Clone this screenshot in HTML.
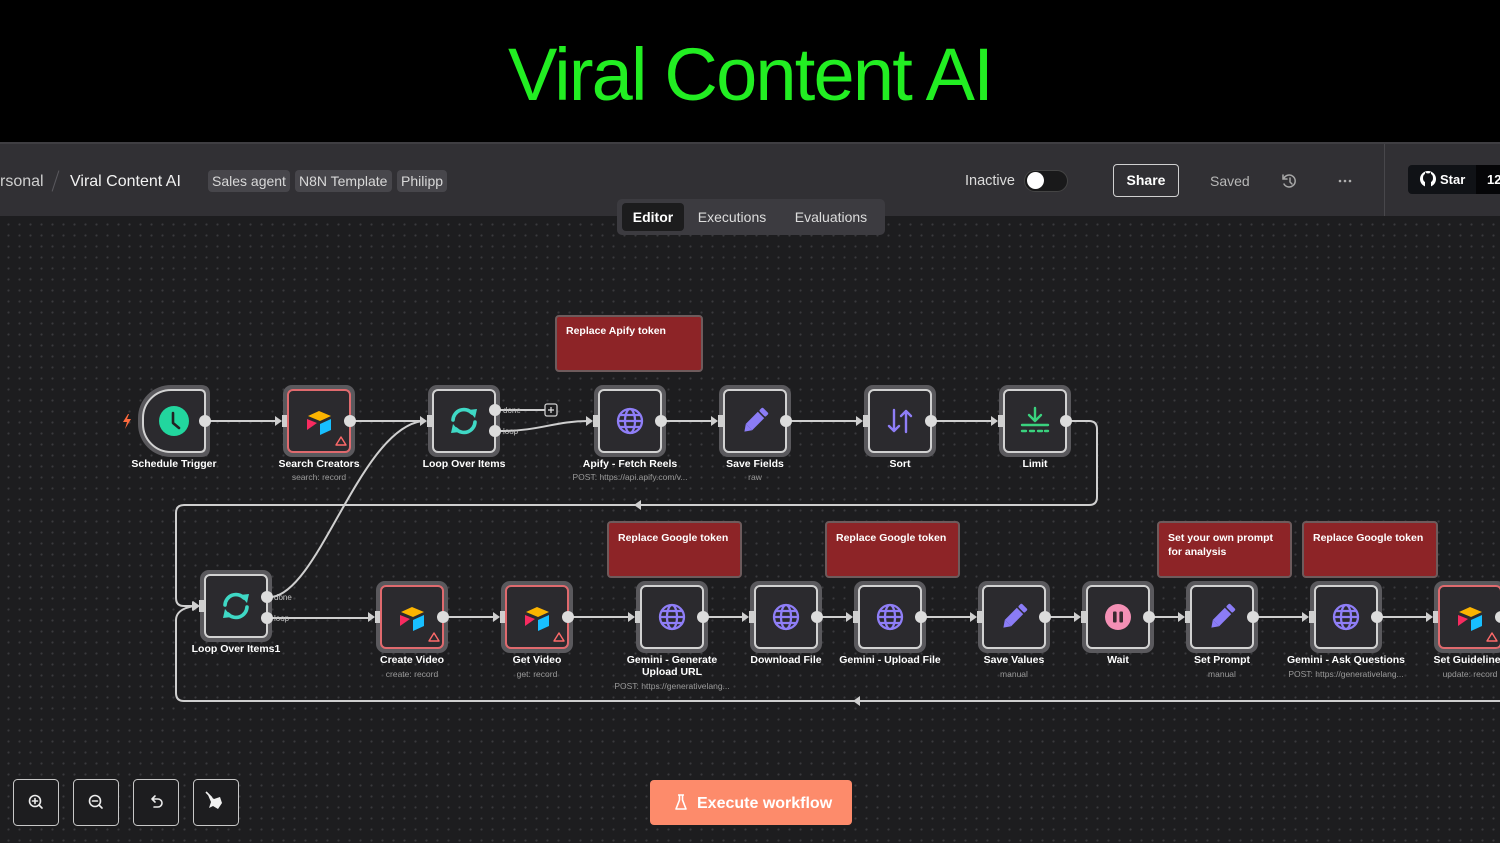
<!DOCTYPE html>
<html><head><meta charset="utf-8">
<style>
*{margin:0;padding:0;box-sizing:border-box}
body{width:1500px;height:843px;overflow:hidden;background:#000;font-family:"Liberation Sans",sans-serif;position:relative}
.title{position:absolute;left:0;top:30px;width:1500px;text-align:center;color:#22ee22;font-size:74px;line-height:90px;letter-spacing:-1.8px;white-space:nowrap}
.hdr{position:absolute;left:0;top:142px;width:1500px;height:74px;background:#313034;border-top:2px solid #3f3e42}
.canvas{position:absolute;left:0;top:216px;width:1500px;height:627px;background-color:#1d1d1f;background-image:radial-gradient(circle,#3a3a3d 0.9px,transparent 1.3px);background-size:11px 11px;background-position:3px 3px}
.abs{position:absolute;white-space:nowrap}
.tag{position:absolute;top:170px;height:22px;line-height:22px;background:#47464b;border-radius:4px;font-size:14px;color:#d8d8d8;padding:0 4px}
svg{position:absolute;left:0;top:0}
</style></head><body>
<div class="title">Viral Content AI</div>
<div class="hdr"></div>
<div class="canvas"></div>

<!-- header content -->
<div class="abs" style="left:0;top:172px;font-size:16px;color:#cfcfcf;line-height:20px">rsonal</div>
<div class="abs" style="left:55px;top:170px;width:1px;height:22px;background:#5a595e;transform:rotate(18deg)"></div>
<div class="abs" style="left:70px;top:172px;font-size:16px;color:#f2f2f2;line-height:20px">Viral Content AI</div>
<div class="tag" style="left:208px;width:82px">Sales agent</div>
<div class="tag" style="left:295px;width:97px">N8N Template</div>
<div class="tag" style="left:397px;width:50px">Philipp</div>

<div class="abs" style="left:617px;top:199px;width:268px;height:36px;background:#3c3b40;border-radius:5px"></div>
<div class="abs" style="left:622px;top:203px;width:62px;height:28px;background:#1c1c1d;border-radius:4px;color:#fff;font-size:14px;font-weight:bold;line-height:28px;text-align:center">Editor</div>
<div class="abs" style="left:692px;top:203px;width:80px;height:28px;color:#ddd;font-size:14px;line-height:28px;text-align:center">Executions</div>
<div class="abs" style="left:788px;top:203px;width:86px;height:28px;color:#ddd;font-size:14px;line-height:28px;text-align:center">Evaluations</div>

<div class="abs" style="left:965px;top:172px;font-size:14.5px;color:#dcdcdc;line-height:18px">Inactive</div>
<div class="abs" style="left:1024px;top:170px;width:44px;height:22px;background:#19191a;border-radius:11px;border:1px solid #444"></div>
<div class="abs" style="left:1027px;top:172px;width:17px;height:17px;background:#fff;border-radius:50%"></div>
<div class="abs" style="left:1113px;top:164px;width:66px;height:33px;border:1px solid #d0d0d0;border-radius:4px;color:#fff;font-size:14px;font-weight:bold;line-height:31px;text-align:center">Share</div>
<div class="abs" style="left:1210px;top:172px;font-size:14px;color:#b8b8b8;line-height:18px">Saved</div>
<div class="abs" style="left:1384px;top:144px;width:1px;height:72px;background:#48474b"></div>
<div class="abs" style="left:1408px;top:165px;width:68px;height:29px;background:#101216;border-radius:4px 0 0 4px"></div>
<div class="abs" style="left:1440px;top:171px;font-size:13px;font-weight:bold;color:#fff;line-height:17px">Star</div>
<div class="abs" style="left:1476px;top:165px;width:30px;height:29px;background:#050507"></div>
<div class="abs" style="left:1487px;top:171px;font-size:13px;font-weight:bold;color:#fff;line-height:17px">12</div>

<svg width="1500" height="843" viewBox="0 0 1500 843" xmlns="http://www.w3.org/2000/svg" font-family="Liberation Sans, sans-serif">
<defs>
  <g id="nbase">
    <rect x="-36" y="-36" width="72" height="72" rx="9" fill="#5a595d"/>
    <rect x="-31" y="-31" width="62" height="62" rx="5" fill="#2b2a2e" stroke="#d2d2d2" stroke-width="2"/>
    <rect x="-37" y="-6" width="5" height="12" fill="#cfcfcf"/>
    <polygon points="-44,-5 -37,0 -44,5" fill="#cfcfcf"/>
  </g>
  <g id="nb">
    <use href="#nbase"/>
    <circle cx="31" cy="0" r="6" fill="#dcdcdc"/>
  </g>
  <g id="nbr">
    <rect x="-36" y="-36" width="72" height="72" rx="9" fill="#5a595d"/>
    <rect x="-31" y="-31" width="62" height="62" rx="5" fill="#2b2a2e" stroke="#e06a6e" stroke-width="2"/>
    <rect x="-37" y="-6" width="5" height="12" fill="#cfcfcf"/>
    <polygon points="-44,-5 -37,0 -44,5" fill="#cfcfcf"/>
    <circle cx="31" cy="0" r="6" fill="#dcdcdc"/>
    <path d="M22,16 L27,24 L17,24 Z" fill="none" stroke="#ff6a6a" stroke-width="1.4" stroke-linejoin="round"/>
  </g>
  <g id="globe" fill="none" stroke="#8f7ef7" stroke-width="2.3">
    <circle r="12"/>
    <ellipse rx="5" ry="12"/>
    <line x1="-12" y1="0" x2="12" y2="0"/>
    <path d="M-10.4,-6 H10.4 M-10.4,6 H10.4"/>
  </g>
  <g id="air">
    <polygon points="-11,-5 0,-10 12,-5 1,0" fill="#fcb400"/>
    <polygon points="-12,-2 -2,2 -12,9" fill="#f82b60"/>
    <polygon points="1,3 12,-2 12,9 1,14" fill="#18bfff"/>
  </g>
  <g id="loop" fill="none" stroke="#3fd8c5" stroke-width="3.6" stroke-linecap="round">
    <path d="M-11,-1 A11,11 0 0 1 8,-8"/>
    <path d="M11,1 A11,11 0 0 1 -8,8"/>
    <polygon points="4,-11 13,-12 11,-3" fill="#3fd8c5" stroke="none"/>
    <polygon points="-4,11 -13,12 -11,3" fill="#3fd8c5" stroke="none"/>
  </g>
  <g id="pencil" transform="rotate(45)">
    <rect x="-4.5" y="-15" width="9" height="5" rx="1.5" fill="#8b7cf6"/>
    <rect x="-4.5" y="-8.5" width="9" height="17" fill="#8b7cf6"/>
    <polygon points="-4.5,8.5 4.5,8.5 0,15" fill="#8b7cf6"/>
  </g>
</defs>

<!-- ===== connectors ===== -->
<g fill="none" stroke="#cfcfcf" stroke-width="2">
  <line x1="205" y1="421" x2="277" y2="421"/>
  <line x1="350" y1="421" x2="422" y2="421"/>
  <line x1="495" y1="410" x2="545" y2="410"/>
  <path d="M501,431 C540,431 555,421 588,421"/>
  <line x1="661" y1="421" x2="713" y2="421"/>
  <line x1="786" y1="421" x2="858" y2="421"/>
  <line x1="931" y1="421" x2="993" y2="421"/>
  <path d="M1066,421 H1089 Q1097,421 1097,429 V497 Q1097,505 1089,505 H184 Q176,505 176,513 V598 Q176,606 184,606 H193"/>
  <path d="M1500,701 H184 Q176,701 176,693 V620 Q176,612 186,608 L193,606"/>
  <path d="M272,597 C320,590 360,430 422,421"/>
  <line x1="267" y1="618" x2="370" y2="618"/>
  <line x1="443" y1="617" x2="495" y2="617"/>
  <line x1="568" y1="617" x2="630" y2="617"/>
  <line x1="703" y1="617" x2="744" y2="617"/>
  <line x1="817" y1="617" x2="848" y2="617"/>
  <line x1="921" y1="617" x2="972" y2="617"/>
  <line x1="1045" y1="617" x2="1076" y2="617"/>
  <line x1="1149" y1="617" x2="1180" y2="617"/>
  <line x1="1253" y1="617" x2="1304" y2="617"/>
  <line x1="1377" y1="617" x2="1428" y2="617"/>
</g>
<polygon points="634,505 641,500 641,510" fill="#cfcfcf"/>
<polygon points="853,701 860,696 860,706" fill="#cfcfcf"/>
<polygon points="193,601 200,606 193,611" fill="#cfcfcf"/>

<!-- plus box -->
<rect x="545" y="404" width="12" height="12" rx="2" fill="#1d1d1f" stroke="#cfcfcf" stroke-width="1.3"/>
<path d="M551,407 V413 M548,410 H554" stroke="#e0e0e0" stroke-width="1.2"/>

<!-- sticky notes -->
<g stroke="#6e5b5c" stroke-width="2" fill="#8d2427">
  <rect x="556" y="316" width="146" height="55" rx="3"/>
  <rect x="608" y="522" width="133" height="55" rx="3"/>
  <rect x="826" y="522" width="133" height="55" rx="3"/>
  <rect x="1158" y="522" width="133" height="55" rx="3"/>
  <rect x="1303" y="522" width="134" height="55" rx="3"/>
</g>
<g fill="#ffffff" font-size="10.5" font-weight="bold">
  <text x="566" y="334">Replace Apify token</text>
  <text x="618" y="541">Replace Google token</text>
  <text x="836" y="541">Replace Google token</text>
  <text x="1168" y="541">Set your own prompt</text>
  <text x="1168" y="555">for analysis</text>
  <text x="1313" y="541">Replace Google token</text>
</g>

<!-- ===== row 1 nodes ===== -->
<polygon points="128,414 123,422 127,422 125,429 131,419 127,419 129,414" fill="#ff6a3d"/>
<g transform="translate(174,421)">
  <path d="M-3,-36 H27 Q36,-36 36,-27 V27 Q36,36 27,36 H-3 A33,33 0 0 1 -36,3 V-3 A33,33 0 0 1 -3,-36 Z" fill="#5a595d"/>
  <path d="M-3,-31 H26 Q31,-31 31,-26 V26 Q31,31 26,31 H-3 A28,28 0 0 1 -31,3 V-3 A28,28 0 0 1 -3,-31 Z" fill="#2b2a2e" stroke="#d2d2d2" stroke-width="2"/>
  <circle cx="31" cy="0" r="6" fill="#dcdcdc"/>
  <circle r="15" fill="#22d69e"/>
  <path d="M-1,-8 V2 L5,7" fill="none" stroke="#222" stroke-width="2.6" stroke-linecap="round" stroke-linejoin="round"/>
</g>
<g transform="translate(319,421)"><use href="#nbr"/><use href="#air"/></g>
<g transform="translate(464,421)">
  <use href="#nbase"/><use href="#loop"/>
  <circle cx="31" cy="-11" r="6" fill="#dcdcdc"/><circle cx="31" cy="10" r="6" fill="#dcdcdc"/>
</g>
<g transform="translate(630,421)"><use href="#nb"/><use href="#globe"/></g>
<g transform="translate(755,421)"><use href="#nb"/><use href="#pencil"/></g>
<g transform="translate(900,421)"><use href="#nb"/>
  <g fill="none" stroke="#8f7ef7" stroke-width="2.4" stroke-linecap="round" stroke-linejoin="round">
    <path d="M-6,-11 V10 M-11,5 L-6,10 L-1,5"/>
    <path d="M6,11 V-10 M1,-5 L6,-10 L11,-5"/>
  </g>
</g>
<g transform="translate(1035,421)"><use href="#nb"/>
  <g fill="none" stroke="#3ad27e" stroke-width="2.4" stroke-linecap="round" stroke-linejoin="round">
    <path d="M0,-13 V0 M-6,-6 L0,0 L6,-6"/>
    <path d="M-13,4 H13"/>
    <path d="M-13,10 H-9 M-5,10 H-1 M3,10 H7 M10,10 H13"/>
  </g>
</g>
<g font-size="8" fill="#c4c4c4">
  <text x="503" y="413">done</text>
  <text x="503" y="434">loop</text>
  <text x="274" y="600">done</text>
  <text x="274" y="621">loop</text>
</g>

<!-- ===== row 2 nodes ===== -->
<g transform="translate(236,606)">
  <use href="#nbase"/><use href="#loop"/>
  <circle cx="31" cy="-9" r="6" fill="#dcdcdc"/><circle cx="31" cy="12" r="6" fill="#dcdcdc"/>
</g>
<g transform="translate(412,617)"><use href="#nbr"/><use href="#air"/></g>
<g transform="translate(537,617)"><use href="#nbr"/><use href="#air"/></g>
<g transform="translate(672,617)"><use href="#nb"/><use href="#globe"/></g>
<g transform="translate(786,617)"><use href="#nb"/><use href="#globe"/></g>
<g transform="translate(890,617)"><use href="#nb"/><use href="#globe"/></g>
<g transform="translate(1014,617)"><use href="#nb"/><use href="#pencil"/></g>
<g transform="translate(1118,617)"><use href="#nb"/>
  <circle r="13" fill="#f490b5"/>
  <rect x="-5" y="-5.5" width="3.6" height="11" rx="1" fill="#3a2a30"/>
  <rect x="1.4" y="-5.5" width="3.6" height="11" rx="1" fill="#3a2a30"/>
</g>
<g transform="translate(1222,617)"><use href="#nb"/><use href="#pencil"/></g>
<g transform="translate(1346,617)"><use href="#nb"/><use href="#globe"/></g>
<g transform="translate(1470,617)"><use href="#nbr"/><use href="#air"/></g>

<!-- labels -->
<g fill="#ffffff" font-size="10.5" font-weight="bold" text-anchor="middle">
  <text x="174" y="467">Schedule Trigger</text>
  <text x="319" y="467">Search Creators</text>
  <text x="464" y="467">Loop Over Items</text>
  <text x="630" y="467">Apify - Fetch Reels</text>
  <text x="755" y="467">Save Fields</text>
  <text x="900" y="467">Sort</text>
  <text x="1035" y="467">Limit</text>
  <text x="236" y="652">Loop Over Items1</text>
  <text x="412" y="663">Create Video</text>
  <text x="537" y="663">Get Video</text>
  <text x="672" y="663">Gemini - Generate</text>
  <text x="672" y="675">Upload URL</text>
  <text x="786" y="663">Download File</text>
  <text x="890" y="663">Gemini - Upload File</text>
  <text x="1014" y="663">Save Values</text>
  <text x="1118" y="663">Wait</text>
  <text x="1222" y="663">Set Prompt</text>
  <text x="1346" y="663">Gemini - Ask Questions</text>
  <text x="1470" y="663">Set Guidelines</text>
</g>
<g fill="#9a9a9a" font-size="8.5" text-anchor="middle">
  <text x="319" y="480">search: record</text>
  <text x="630" y="480">POST: https://api.apify.com/v...</text>
  <text x="755" y="480">raw</text>
  <text x="412" y="677">create: record</text>
  <text x="537" y="677">get: record</text>
  <text x="672" y="689">POST: https://generativelang...</text>
  <text x="1014" y="677">manual</text>
  <text x="1222" y="677">manual</text>
  <text x="1346" y="677">POST: https://generativelang...</text>
  <text x="1470" y="677">update: record</text>
</g>

<!-- header icons -->
<g fill="none" stroke="#a8a8a8" stroke-width="1.5" stroke-linecap="round">
  <path d="M1284,178 A6,6 0 1 1 1284,184"/>
  <path d="M1283,175 V179 H1287"/>
  <path d="M1290,178 V182 L1292,184"/>
</g>
<g fill="#b0b0b0"><circle cx="1340" cy="181" r="1.3"/><circle cx="1345" cy="181" r="1.3"/><circle cx="1350" cy="181" r="1.3"/></g>
<g transform="translate(1428,179)">
  <circle r="8" fill="#ffffff"/>
  <path d="M-3,8 V3 Q-5,2 -5,-1 Q-5,-4 -3,-5 L-3,-7 L-1,-5.5 Q0,-6 1,-5.5 L3,-7 L3,-5 Q5,-4 5,-1 Q5,2 3,3 V8 Z" fill="#101216"/>
</g>

<!-- bottom controls -->
<g fill="#1d1d1f" stroke="#c8c8c8" stroke-width="1">
  <rect x="13.5" y="779.5" width="45" height="46" rx="4"/>
  <rect x="73.5" y="779.5" width="45" height="46" rx="4"/>
  <rect x="133.5" y="779.5" width="45" height="46" rx="4"/>
  <rect x="193.5" y="779.5" width="45" height="46" rx="4"/>
</g>
<g fill="none" stroke="#ececec" stroke-width="1.6" stroke-linecap="round">
  <circle cx="35" cy="801" r="5.5"/><path d="M39,805 L42,808 M35,798.5 V803.5 M32.5,801 H37.5"/>
  <circle cx="95" cy="801" r="5.5"/><path d="M99,805 L102,808 M92.5,801 H97.5"/>
  <path d="M152,799 H158 A4,4 0 0 1 158,807 H154 M152,799 L155,796 M152,799 L155,802"/>
</g>
<path d="M208,795 L214,799 L220,797 L222,803 L218,809 L213,806 L209,808 L211,802 Z" fill="#f0f0f0"/>
<path d="M206,792 L212,798" stroke="#f0f0f0" stroke-width="1.6"/>

<rect x="650" y="780" width="202" height="45" rx="4" fill="#fd8b6b"/>
<path d="M678,795 H684 M679.5,795 V800 L676,809 H686 L682.5,800 V795" fill="none" stroke="#fff" stroke-width="1.6" stroke-linejoin="round"/>
<text x="697" y="808" fill="#ffffff" font-size="16" font-weight="bold">Execute workflow</text>
</svg>
</body></html>
